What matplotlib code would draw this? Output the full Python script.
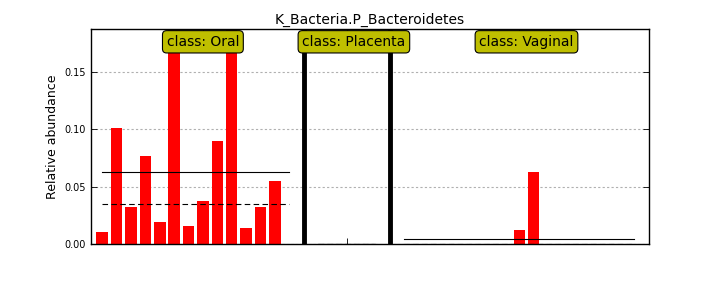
import numpy as np
import matplotlib
matplotlib.use("Agg")
import matplotlib.pyplot as plt

title = "K_Bacteria.P_Bacteroidetes"
classes = ["Oral", "Placenta", "Vaginal"]
oral = [0.0107, 0.1009, 0.0322, 0.0765, 0.0194, 0.200, 0.0157, 0.0374,
        0.0896, 0.190, 0.0139, 0.0322, 0.0548, 0.0]
placenta = [0.0, 0.0, 0.0, 0.0, 0.0]
vaginal = [0.0, 0.0, 0.0, 0.0, 0.0, 0.0, 0.0, 0.0, 0.0122, 0.0626,
           0.0, 0.0, 0.0, 0.0, 0.0, 0.0, 0.0]
series = [oral, placenta, vaginal]
yticks = [0.0, 0.05, 0.10, 0.15]
ytick_labels = ["0.00", "0.05", "0.10", "0.15"]

fig = plt.figure(figsize=(7.2, 2.88), dpi=100, facecolor="white")
ax = fig.add_axes([0.126, 0.153, 0.776, 0.746])

start = 0
for name, vals in zip(classes, series):
    vals = np.asarray(vals)
    n = len(vals)
    xs = np.arange(start, start + n)
    ax.bar(xs, vals, width=0.8, color="#ff0000", edgecolor="none", zorder=2)
    mean = vals.mean()
    med = np.median(vals)
    ax.plot([xs[0], xs[-1]], [mean, mean], color="black", lw=0.8, zorder=3)
    ax.plot([xs[0], xs[-1]], [med, med], color="black", lw=0.8,
            linestyle=(0, (5, 3)), zorder=3)
    end = start + n
    ax.text((start + end) / 2.0, 0.1765, "class: " + name,
            ha="center", va="center", fontsize=10,
            bbox=dict(boxstyle="round,pad=0.3", facecolor=(0.75, 0.75, 0.0),
                      edgecolor="black", lw=0.8), zorder=5)
    if end < 38:
        ax.axvline(end, color="black", lw=3.5, zorder=4)
    start = end + 1

ax.set_xlim(-0.8, 38.05)
ax.set_ylim(0, 0.1876)
ax.set_xticks([7, 17, 29])
ax.set_xticklabels([])
ax.set_yticks(yticks)
ax.set_yticklabels(ytick_labels, fontsize=7)
ax.tick_params(direction="in", length=4, width=0.6, top=True, right=True)
ax.yaxis.grid(True, color="#b0b0b0", linestyle=(0, (2, 2)), lw=0.8)
ax.set_axisbelow(True)
ax.set_ylabel("Relative abundance", fontsize=9)
ax.set_title(title, fontsize=10, pad=4)
for sp in ax.spines.values():
    sp.set_linewidth(1.0)

fig.savefig("out.png", dpi=100, facecolor="white")
